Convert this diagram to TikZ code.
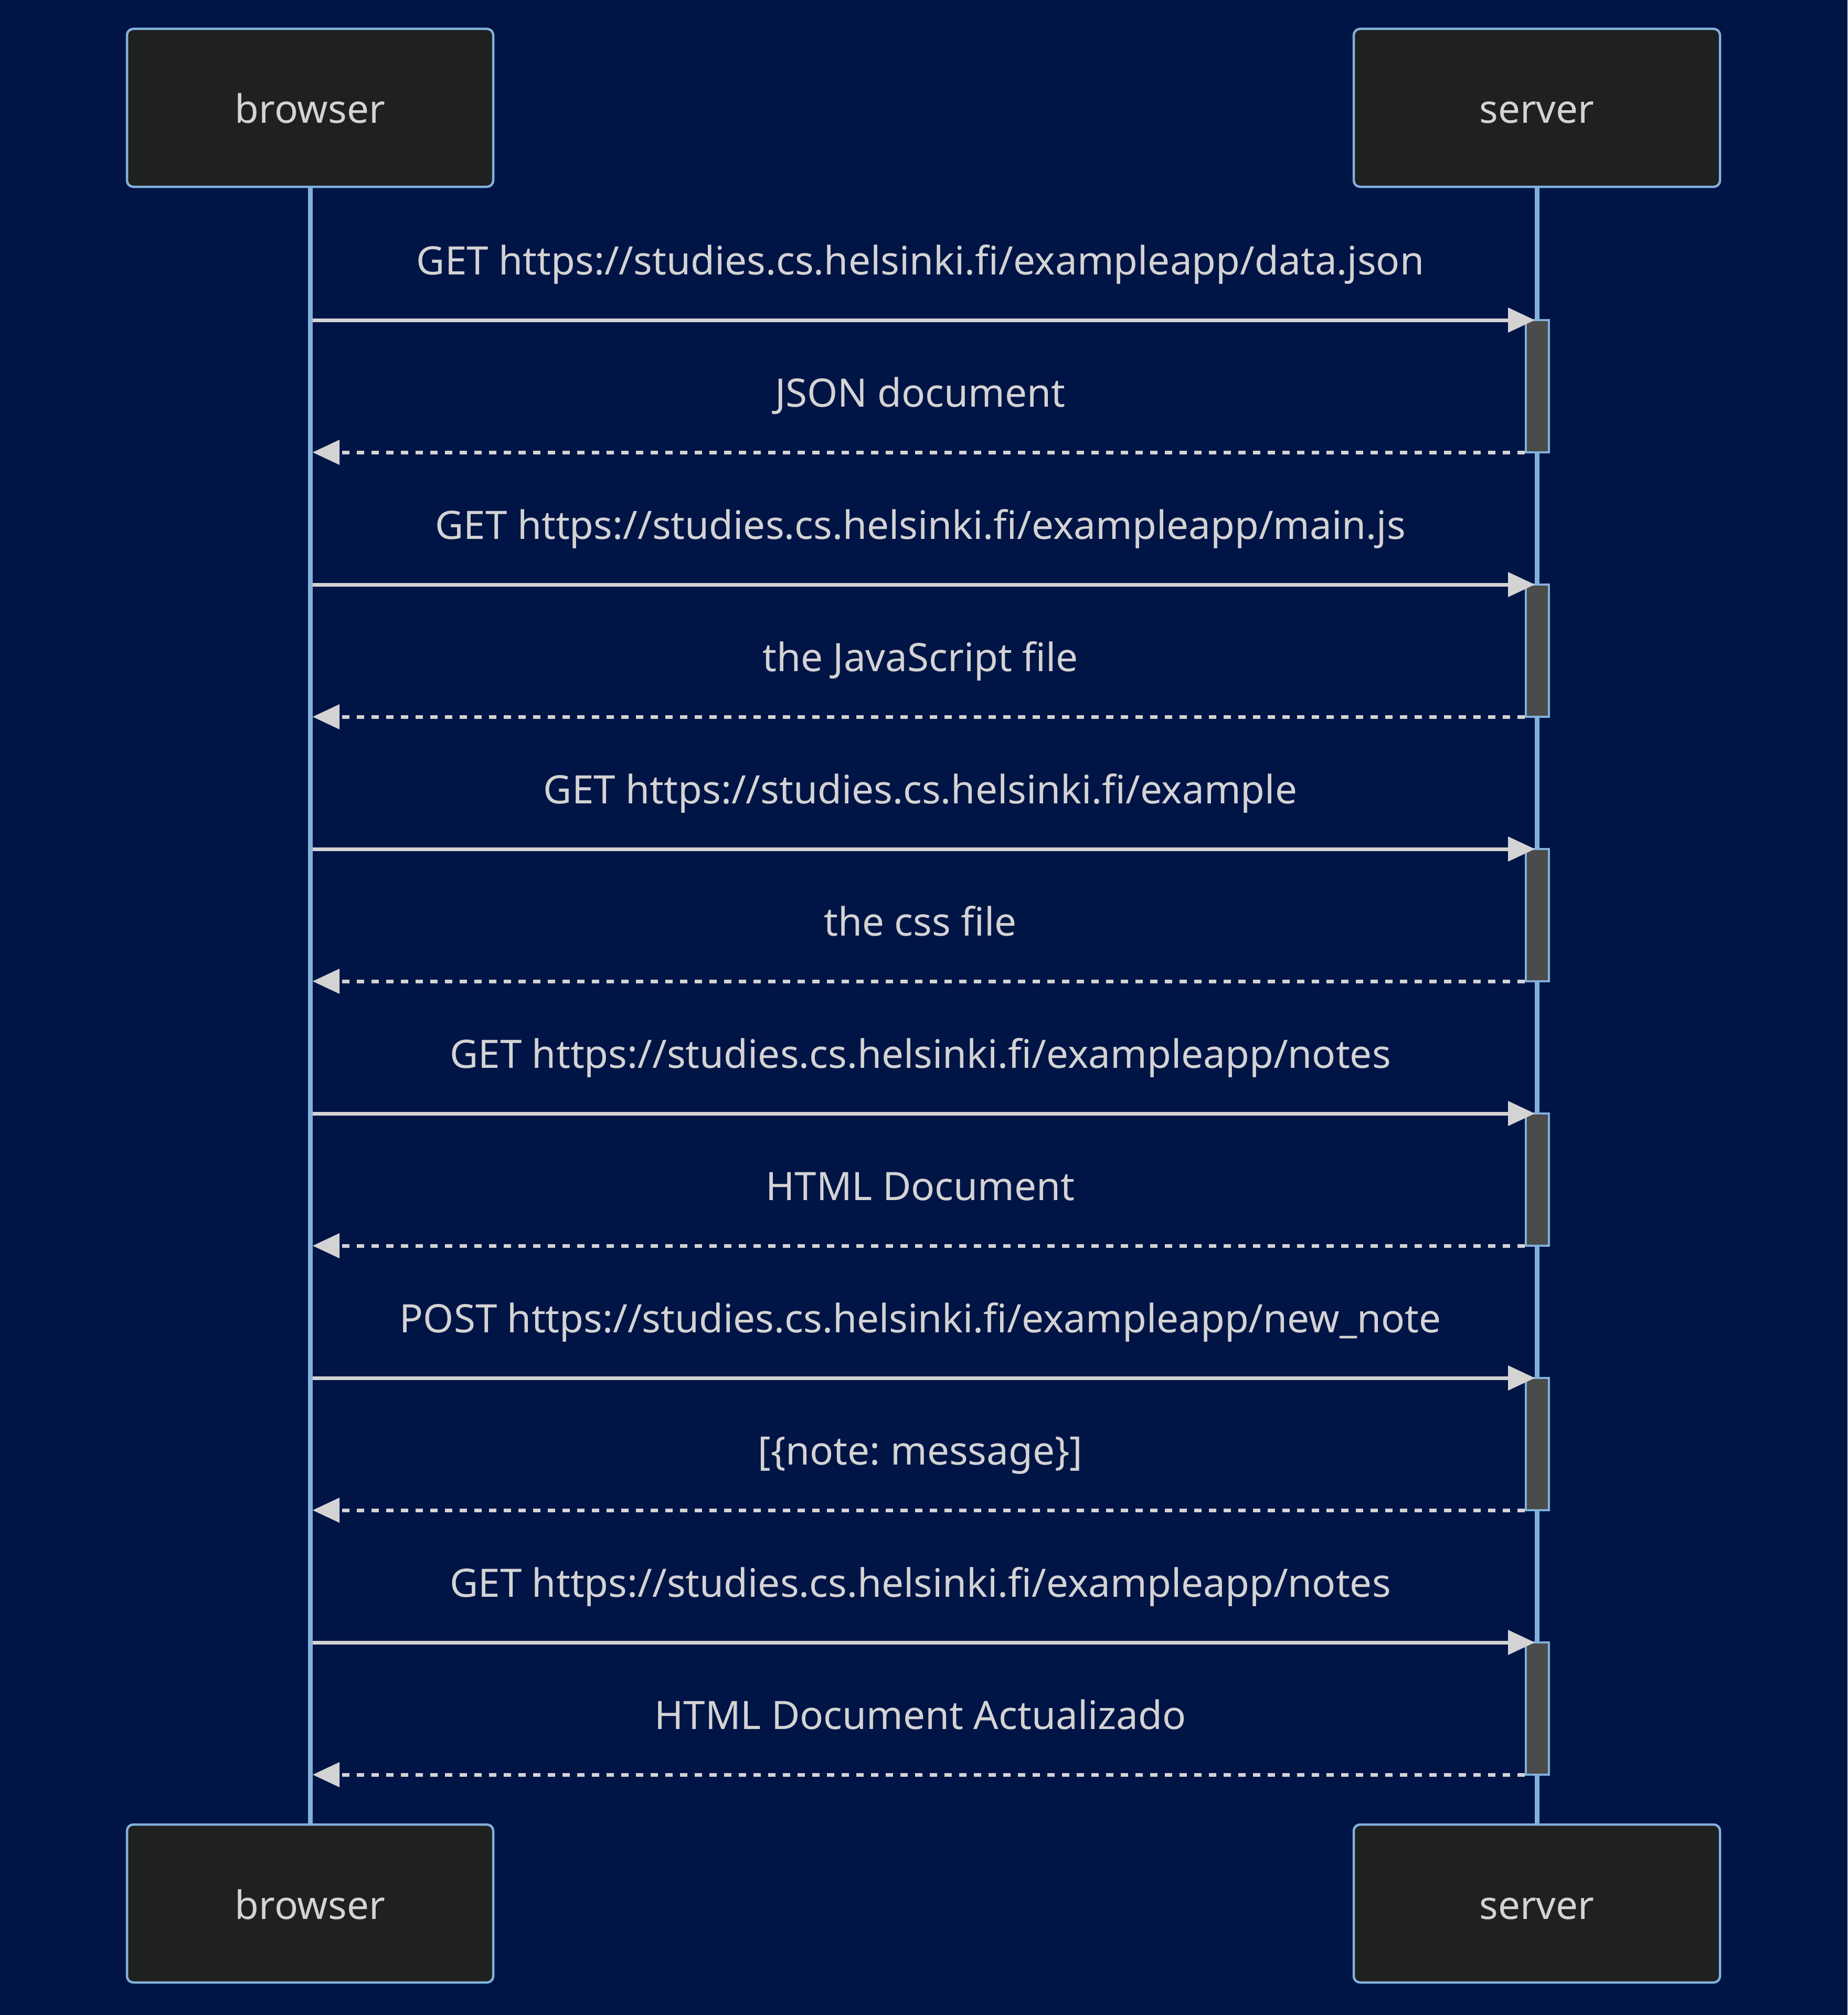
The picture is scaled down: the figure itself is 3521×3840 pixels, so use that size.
\documentclass[tikz,border=0pt]{standalone}
\usepackage{fontspec}
\setmainfont{Noto Sans}
\usetikzlibrary{arrows.meta}
\definecolor{bgc}{HTML}{001446}
\definecolor{actfill}{HTML}{1F2020}
\definecolor{bord}{HTML}{81B1DB}
\definecolor{txt}{HTML}{D3D3D3}
\definecolor{actv}{HTML}{4A4B4A}
\frenchspacing
\begin{document}
\begin{tikzpicture}[x=1pt,y=-1pt,
  actor/.style={draw=bord, fill=actfill, line width=4.5pt, rounded corners=12pt,
    minimum width=698pt, minimum height=301pt, inner sep=0pt, text=txt,
    font=\fontsize{74.6}{90}\selectfont, text height=59pt, text depth=0pt},
  life/.style={draw=bord, line width=9pt},
  msg/.style={text=txt, font=\fontsize{74.6}{90}\selectfont, anchor=base, inner sep=0pt},
  req/.style={draw=txt, line width=7pt, -{Triangle[length=51pt,width=48pt,line width=0pt]}},
  rep/.style={req, dash pattern=on 14pt off 14pt},
  activ/.style={draw=bord, fill=actv, line width=4.5pt, minimum width=44pt,
    minimum height=252pt, inner sep=0pt}
]
\fill[bgc] (0,0) rectangle (3521,3840);
\useasboundingbox (0,0) rectangle (3521,3840);

% actors
\node[actor] (bTop) at (591,205.5) {browser};
\node[actor] (sTop) at (2929,205.5) {server};
\node[actor] (bBot) at (591,3627.5) {browser};
\node[actor] (sBot) at (2929,3627.5) {server};

% lifelines
\draw[life] (bTop.south) -- (bBot.north);
\draw[life] (sTop.south) -- (sBot.north);

% activations
\node[activ] (a1) at (2930,736) {};
\node[activ] (a2) at (2930,1240) {};
\node[activ] (a3) at (2930,1744) {};
\node[activ] (a4) at (2930,2248) {};
\node[activ] (a5) at (2930,2752) {};
\node[activ] (a6) at (2930,3256) {};

% message end points
\coordinate (bq1) at (596,610);  \coordinate (sq1) at (2925,610);
\coordinate (sr1) at (2906,862); \coordinate (br1) at (596,862);
\coordinate (bq2) at (596,1114); \coordinate (sq2) at (2925,1114);
\coordinate (sr2) at (2906,1366); \coordinate (br2) at (596,1366);
\coordinate (bq3) at (596,1618); \coordinate (sq3) at (2925,1618);
\coordinate (sr3) at (2906,1870); \coordinate (br3) at (596,1870);
\coordinate (bq4) at (596,2122); \coordinate (sq4) at (2925,2122);
\coordinate (sr4) at (2906,2374); \coordinate (br4) at (596,2374);
\coordinate (bq5) at (596,2626); \coordinate (sq5) at (2925,2626);
\coordinate (sr5) at (2906,2878); \coordinate (br5) at (596,2878);
\coordinate (bq6) at (596,3130); \coordinate (sq6) at (2925,3130);
\coordinate (sr6) at (2906,3382); \coordinate (br6) at (596,3382);

% messages
\draw[req] (bq1) -- (sq1);
\draw[rep] (sr1) -- (br1);
\draw[req] (bq2) -- (sq2);
\draw[rep] (sr2) -- (br2);
\draw[req] (bq3) -- (sq3);
\draw[rep] (sr3) -- (br3);
\draw[req] (bq4) -- (sq4);
\draw[rep] (sr4) -- (br4);
\draw[req] (bq5) -- (sq5);
\draw[rep] (sr5) -- (br5);
\draw[req] (bq6) -- (sq6);
\draw[rep] (sr6) -- (br6);

% labels
\node[msg] (m1) at (1754,523) {GET https://studies.cs.helsinki.fi/exampleapp/data.json};
\node[msg] (m2) at (1754,775) {JSON document};
\node[msg] (m3) at (1754,1027) {GET https://studies.cs.helsinki.fi/exampleapp/main.js};
\node[msg] (m4) at (1754,1279) {the JavaScript file};
\node[msg] (m5) at (1754,1531) {GET https://studies.cs.helsinki.fi/example};
\node[msg] (m6) at (1754,1783) {the css file};
\node[msg] (m7) at (1754,2035) {GET https://studies.cs.helsinki.fi/exampleapp/notes};
\node[msg] (m8) at (1754,2287) {HTML Document};
\node[msg] (m9) at (1754,2539) {POST https://studies.cs.helsinki.fi/exampleapp/new\_note};
\node[msg] (m10) at (1754,2791) {[\{note: message\}]};
\node[msg] (m11) at (1754,3043) {GET https://studies.cs.helsinki.fi/exampleapp/notes};
\node[msg] (m12) at (1754,3295) {HTML Document Actualizado};
\end{tikzpicture}
\end{document}
